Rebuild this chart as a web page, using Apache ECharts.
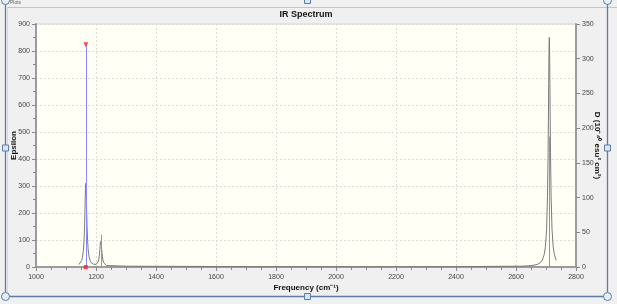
<!DOCTYPE html>
<html>
<head>
<meta charset="utf-8">
<script src="https://cdn.jsdelivr.net/npm/echarts@6/dist/echarts.min.js"></script>
<style>
html,body{margin:0;padding:0;background:#f0f0f0;}
#c{width:617px;height:304px;}
</style>
</head>
<body>
<div id="c"></div>
<script>
// Broadened spectrum (Frequency cm^-1, Epsilon)
const spectrumFreq = [1143,1148,1152,1155,1158,1160,1162,1163,1164,1165,1166,1167,1168,1169,1170,1172,1174,1177,1180,1184,1188,1192,1196,1200,1204,1207,1209,1211,1213,1214,1215,1216,1217,1218,1219,1221,1223,1226,1230,1235,1240,1300,1400,1500,1570,1580,1700,1900,2100,2240,2400,2550,2620,2650,2670,2680,2688,2694,2698,2702,2705,2707,2708,2709,2710,2711,2712,2713,2714,2715,2717,2720,2724,2728,2734];
const spectrumEps  = [9,15,24,36,62,96,155,198,248,292,310,292,248,199,156,97,63,37,25,16,12,10,9,10,13,19,27,41,65,80,94,100,94,80,65,40,26,15,9,5.5,4,3,2.5,2.2,2,1.5,1.2,1,0.9,0.8,1.2,2.5,3,5,9,15,26,46,75,140,262,425,544,680,800,850,800,680,544,425,262,140,75,46,25];
// Stick spectrum (Frequency, D in 10^-40 esu^2 cm^2)
const stickFreq = [1166,1216,2711];
const stickD    = [320,46.5,188];
// Selected peak markers
const selFreq = 1166;
const selD = 320;
// Axis ticks
const xTicks = {min:1000,max:2800,interval:200};
const yLeftTicks = {min:0,max:900,interval:100};
const yRightTicks = {min:0,max:350,interval:50};

const chart = echarts.init(document.getElementById('c'), null, {renderer:'canvas'});
const font = 'Liberation Sans, Arial, sans-serif';
const axisGray = '#9c9c9c';
const labelStyle = {fontSize:7, color:'#444', fontFamily:font, formatter:(v)=>String(v)};

const frameBlue = '#5b7da6';
const handleFill = '#d6e6f7';
const graphics = [
  {type:'line', shape:{x1:7,y1:7.5,x2:617,y2:7.5}, style:{stroke:'#c4c4c4',lineWidth:1}},
  {type:'line', shape:{x1:7.5,y1:7,x2:7.5,y2:296}, style:{stroke:'#dadada',lineWidth:1}},
  {type:'text', left:10, top:0, style:{text:'Plots', fontSize:5, fill:'#666', fontFamily:font}},
  {type:'line', shape:{x1:5.5,y1:0,x2:5.5,y2:296}, style:{stroke:frameBlue,lineWidth:1.3}},
  {type:'line', shape:{x1:607.5,y1:0,x2:607.5,y2:296}, style:{stroke:frameBlue,lineWidth:1.3}},
  {type:'line', shape:{x1:5,y1:296.5,x2:607,y2:296.5}, style:{stroke:frameBlue,lineWidth:1.3}},
  {type:'circle', shape:{cx:5.5,cy:0.5,r:4}, style:{fill:'#e6eef7',stroke:frameBlue,lineWidth:1}},
  {type:'circle', shape:{cx:607.5,cy:0.5,r:4}, style:{fill:'#e6eef7',stroke:frameBlue,lineWidth:1}},
  {type:'circle', shape:{cx:5.5,cy:296.5,r:4}, style:{fill:'#e6eef7',stroke:frameBlue,lineWidth:1}},
  {type:'circle', shape:{cx:607.5,cy:296.5,r:4}, style:{fill:'#e6eef7',stroke:frameBlue,lineWidth:1}},
  {type:'rect', shape:{x:2.5,y:145,width:6,height:6}, style:{fill:handleFill,stroke:frameBlue,lineWidth:1}},
  {type:'rect', shape:{x:604.5,y:145,width:6,height:6}, style:{fill:handleFill,stroke:frameBlue,lineWidth:1}},
  {type:'rect', shape:{x:304.5,y:293.5,width:6,height:6}, style:{fill:handleFill,stroke:frameBlue,lineWidth:1}},
  {type:'rect', shape:{x:304.5,y:-2.5,width:6,height:6}, style:{fill:handleFill,stroke:frameBlue,lineWidth:1}}
];

const option = {
  animation:false,
  backgroundColor:'#f0f0f0',
  title:{text:'IR Spectrum', left:306, top:10, textAlign:'center', padding:0,
    textStyle:{fontSize:9, fontWeight:'bold', color:'#111', fontFamily:font}},
  grid:{left:36, right:41, top:24, bottom:37, containLabel:false, outerBoundsMode:'none',
    show:true, backgroundColor:'#fffff6', borderColor:'#d4d4d4', borderWidth:1},
  graphic:graphics,
  xAxis:{
    type:'value', min:xTicks.min, max:xTicks.max, interval:xTicks.interval,
    name:'Frequency (cm⁻¹)', nameLocation:'middle', nameGap:17, nameMoveOverlap:false,
    nameTextStyle:{fontSize:8, fontWeight:'bold', color:'#111', fontFamily:font},
    axisLine:{show:true, onZero:false, lineStyle:{color:axisGray, width:2}},
    axisTick:{show:true, length:4, lineStyle:{color:'#888'}},
    minorTick:{show:true, splitNumber:4, length:3, lineStyle:{color:'#888'}},
    axisLabel:{...labelStyle, margin:7},
    splitLine:{show:true, lineStyle:{color:'#dcdcdc', type:[2,2], width:1}}
  },
  yAxis:[{
    type:'value', min:yLeftTicks.min, max:yLeftTicks.max, interval:yLeftTicks.interval, position:'left',
    name:'Epsilon', nameLocation:'middle', nameGap:18, nameRotate:90, nameMoveOverlap:false,
    nameTextStyle:{fontSize:8, fontWeight:'bold', color:'#111', fontFamily:font},
    axisLine:{show:true, lineStyle:{color:axisGray, width:2}},
    axisTick:{show:true, length:4, lineStyle:{color:'#888'}},
    minorTick:{show:true, splitNumber:2, length:3, lineStyle:{color:'#888'}},
    axisLabel:{...labelStyle, margin:6},
    splitLine:{show:true, lineStyle:{color:'#dcdcdc', type:[2,2], width:1}}
  },{
    type:'value', min:yRightTicks.min, max:yRightTicks.max, interval:yRightTicks.interval, position:'right',
    name:'D (10⁻⁴⁰ esu² cm²)', nameLocation:'middle', nameGap:17, nameRotate:-90, nameMoveOverlap:false,
    nameTextStyle:{fontSize:8, fontWeight:'bold', color:'#111', fontFamily:font},
    axisLine:{show:true, lineStyle:{color:axisGray, width:2}},
    axisTick:{show:true, length:4, lineStyle:{color:'#888'}},
    axisLabel:{...labelStyle, margin:6},
    splitLine:{show:false}
  }],
  series:[
    {
      type:'line', xAxisIndex:0, yAxisIndex:0,
      data:spectrumFreq.map((f,i)=>[f,spectrumEps[i]]),
      showSymbol:false, symbol:'none', smooth:false,
      lineStyle:{color:'#7a7a7a', width:1}, z:3
    },
    {
      type:'custom', xAxisIndex:0, yAxisIndex:1,
      data:stickFreq.map((f,i)=>[f,stickD[i]]),
      encode:{x:0,y:1},
      renderItem:function(params, api){
        const p0 = api.coord([api.value(0), 0]);
        const p1 = api.coord([api.value(0), api.value(1)]);
        const x = Math.round(p0[0]) + 0.5;
        return {type:'line', shape:{x1:x,y1:p0[1],x2:x,y2:p1[1]}, style:{stroke:'#8a8aff', lineWidth:1}};
      }, z:4
    },
    {
      type:'scatter', xAxisIndex:0, yAxisIndex:1,
      data:[[selFreq, selD]], symbol:'triangle', symbolRotate:180, symbolSize:5,
      itemStyle:{color:'#ff2020'}, z:5
    },
    {
      type:'scatter', xAxisIndex:0, yAxisIndex:1,
      data:[[selFreq, 0]], symbol:'rect', symbolSize:4,
      itemStyle:{color:'#ff2020'}, z:5
    }
  ]
};
chart.setOption(option);
</script>
</body>
</html>
